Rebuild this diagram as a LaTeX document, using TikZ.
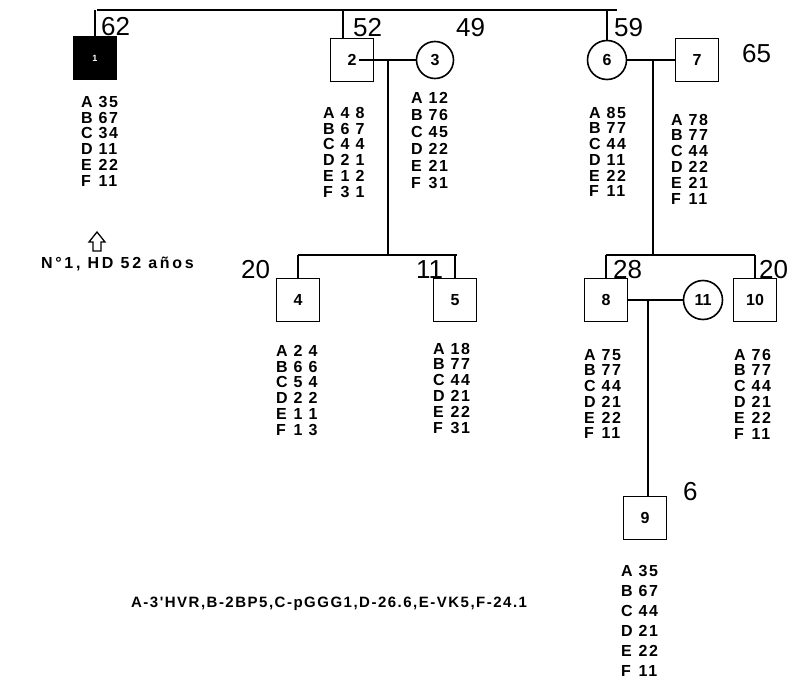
\documentclass[tikz,border=0pt]{standalone}
\usepackage{fontspec}
\setmainfont{Liberation Sans}
\newfontfamily\gfont[LetterSpace=10]{Liberation Sans}
\newfontfamily\wfont[LetterSpace=17]{Liberation Sans}
\usetikzlibrary{calc}

\newcommand{\gtype}[7][15.5pt]{\gfont\bfseries\fontsize{16}{#1}\selectfont
  \begin{tabular}{@{}l@{\hspace{6pt}}l@{}}A&#2\\B&#3\\C&#4\\D&#5\\E&#6\\F&#7\end{tabular}}

\begin{document}
\begin{tikzpicture}[x=1pt, y=-1pt, line width=2.2pt,
    male/.style={draw, rectangle, line width=1.6pt, minimum size=43pt, inner sep=0pt, font=\fontsize{16}{16}\selectfont\bfseries},
    female/.style={draw, circle, line width=1.6pt, minimum size=39pt, inner sep=0pt, font=\fontsize{16}{16}\selectfont\bfseries},
    geno/.style={anchor=north west, inner sep=0pt},
    age/.style={anchor=base west, inner sep=0pt, font=\fontsize{26}{26}\selectfont}]
    \useasboundingbox (0,0) rectangle (795,680);

    \node[male, fill=black, text=white, font=\fontsize{9}{9}\selectfont\bfseries] (p1) at (95,58) {1};
    \node[male] (p2) at (352,60) {2};
    \node[female, minimum size=37pt] (p3) at (435,60) {3};
    \node[female] (p6) at (607,60) {6};
    \node[male] (p7) at (697,60) {7};
    \node[male] (p4) at (298,300) {4};
    \node[male] (p5) at (455,300) {5};
    \node[male] (p8) at (606,300) {8};
    \node[female] (p11) at (703,300) {11};
    \node[male] (p10) at (755,300) {10};
    \node[male] (p9) at (645,518) {9};

    \node[age] (a1) at (100,35) {62};
    \node[age] (a2) at (352,36) {52};
    \node[age] (a3) at (455,36) {49};
    \node[age] (a6) at (613,36) {59};
    \node[age] (a7) at (741,62) {65};
    \node[age] (a4) at (240,278) {20};
    \node[age] (a5) at (415,278) {11};
    \node[age] (a8) at (612,278) {28};
    \node[age] (a10) at (758,278) {20};
    \node[age] (a9) at (682,500) {6};

    \node[geno] (g1) at (80,95) {\gtype{35}{67}{34}{11}{22}{11}};
    \node[geno] (g2) at (322,106) {\gtype{4 8}{6 7}{4 4}{2 1}{1 2}{3 1}};
    \node[geno] (g3) at (410,90) {\gtype[17pt]{12}{76}{45}{22}{21}{31}};
    \node[geno] (g6) at (588,106) {\gtype{85}{77}{44}{11}{22}{11}};
    \node[geno] (g7) at (670,113) {\gtype{78}{77}{44}{22}{21}{11}};
    \node[geno] (g4) at (275,344) {\gtype{2 4}{6 6}{5 4}{2 2}{1 1}{1 3}};
    \node[geno] (g5) at (432,342) {\gtype{18}{77}{44}{21}{22}{31}};
    \node[geno] (g8) at (583,348) {\gtype{75}{77}{44}{21}{22}{11}};
    \node[geno] (g10) at (733,348) {\gtype{76}{77}{44}{21}{22}{11}};
    \node[geno] (g9) at (620,561) {\gtype[20pt]{35}{67}{44}{21}{22}{11}};

    \node[anchor=west, inner sep=0pt, font=\wfont\bfseries\fontsize{16}{16}\selectfont] (hd) at (40,264) {N°1, HD 52 años};
    \node[anchor=west, inner sep=0pt, font=\gfont\bfseries\fontsize{15}{15}\selectfont] (key) at (130,604) {A-3'HVR,B-2BP5,C-pGGG1,D-26.6,E-VK5,F-24.1};

    \coordinate (topL) at (97,10);
    \coordinate (topR) at (617,10);
    \coordinate (m23) at (388,60);
    \coordinate (m67) at (653,60);
    \coordinate (m811) at (648,300);
    \coordinate (sibA) at (298,255);
    \coordinate (sibB) at (457,255);
    \coordinate (sibC) at (606,255);
    \coordinate (sibD) at (755,255);

    \draw[line width=2.6pt] (topL) -- (topR);
    \draw (p1.north) -- (p1.north |- topL);
    \draw ([xshift=-9pt]p2.north) -- ([xshift=-9pt]p2.north |- topL);
    \draw (p6.north) -- (p6.north |- topL);

    \draw ([xshift=7pt]p2.center) -- (p3.west);
    \draw (m23) -- (m23 |- sibA);
    \draw (sibA) -- (sibB);
    \draw (p4.north) -- (p4.north |- sibA);
    \draw (p5.north) -- (p5.north |- sibA);

    \draw (p6.east) -- (p7.west);
    \draw (m67) -- (m67 |- sibC);
    \draw (sibC) -- (sibD);
    \draw (p8.north) -- (p8.north |- sibC);
    \draw (p10.north) -- (p10.north |- sibC);

    \draw (p8.east) -- (p11.west);
    \draw (m811) -- (m811 |- p9.north);

    \draw[line width=1.3pt] (89,242) -- (97,232) -- (105,242) -- (101,242) -- (101,251) -- (93,251) -- (93,242) -- cycle;
\end{tikzpicture}
\end{document}
